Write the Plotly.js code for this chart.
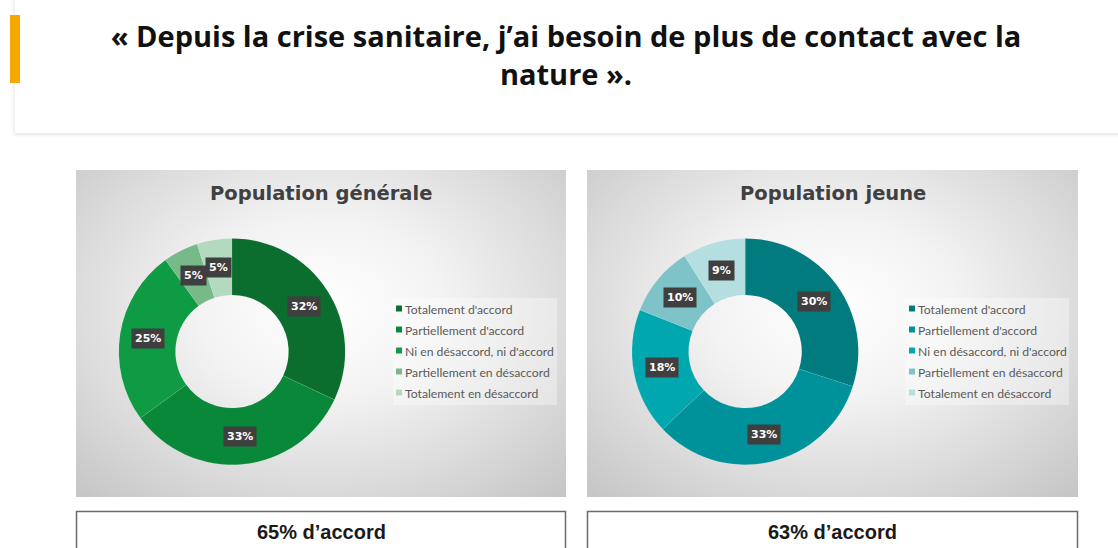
<!DOCTYPE html>
<html>
<head>
<meta charset="utf-8">
<script src="https://cdn.plot.ly/plotly-3.0.1.min.js"></script>
<style>
  html, body { margin: 0; padding: 0; background: #ffffff; }
  #wrap { position: relative; width: 1118px; height: 548px; overflow: hidden; background: #fff; }
  .header { position: absolute; left: 15px; top: -10px; width: 1120px; height: 143px; background: #fff;
            box-shadow: -1px 2px 4px rgba(0,0,0,0.10); }
  .panel { position: absolute; top: 170px; height: 327px;
           background: radial-gradient(ellipse 72% 78% at 50% 42%, #ffffff 0%, #f3f3f3 35%, #dadada 72%, #c6c6c6 100%); }
  #p1 { left: 76px; width: 490px; }
  #p2 { left: 587px; width: 491px; }
  #chart { position: absolute; left: 0; top: 0; width: 1118px; height: 548px; }
  .legend .legendpoints path.legendpie,
  .legend2 .legendpoints path.legendpie { transform: translate(34px, 0px) scale(0.5); }
  text.legendtext, text.legendtext tspan, .legend2 text, .legend2 tspan, .legend text, .legend tspan {
    font-size: 12.2px !important; font-family: Lato, sans-serif !important; }
</style>
</head>
<body>
<div id="wrap">
  <div class="header"></div>
  <div class="panel" id="p1"></div>
  <div class="panel" id="p2"></div>
  <div id="chart"></div>
</div>
<script>
// ---- Data ----
const categories = ["Totalement d'accord", "Partiellement d'accord", "Ni en désaccord, ni d'accord", "Partiellement en désaccord", "Totalement en désaccord"];
const valuesGenerale = [32, 33, 25, 5, 5];
const valuesJeune = [30, 33, 18, 10, 9];
const colorsGenerale = ["#0b6e2e", "#098839", "#0e9b43", "#78b98a", "#b3d9be"];
const colorsJeune = ["#017b7e", "#00929a", "#00a7ae", "#7dc3c7", "#b5dee0"];
const chartTitle = "« Depuis la crise sanitaire, j’ai besoin de plus de contact avec la<br>nature ».";
const panelTitles = ["Population générale", "Population jeune"];
const accordTexts = ["65% d’accord", "63% d’accord"];

const W = 1118, H = 548;
const hole = 0.5;
const dom1 = {x: [0.1055, 0.3095], y: [0.152, 0.565]};
const dom2 = {x: [0.5635, 0.7695], y: [0.152, 0.565]};

// second pie gets a trailing space so its legend entries are not merged with the first pie's
const categoriesJeune = categories.map(c => c + ' ');

function pieTrace(vals, labels, cols, dom, legendId) {
  return {
    type: 'pie', values: vals, labels: labels, sort: false, direction: 'clockwise', rotation: 0,
    hole: hole, domain: dom, textinfo: 'none', hoverinfo: 'label+percent',
    marker: {colors: cols, line: {color: 'rgba(255,255,255,0.15)', width: 0.5}},
    legend: legendId, showlegend: true
  };
}

// label annotations derived from the data values and the pie domain
function labelAnnots(vals, dom) {
  const x0 = dom.x[0]*W, x1 = dom.x[1]*W, y0 = dom.y[0]*H, y1 = dom.y[1]*H;
  const cx = (x0+x1)/2, cy = (y0+y1)/2; // cy measured from bottom
  const r = Math.min(x1-x0, y1-y0)/2;
  const rm = r*(1+hole)/2;
  const total = vals.reduce((a,b)=>a+b, 0);
  let cum = 0;
  return vals.map(v => {
    const mid = (cum + v/2)/total; cum += v;
    const th = mid*2*Math.PI;
    const px = cx + rm*Math.sin(th), py = cy + rm*Math.cos(th);
    return {
      xref: 'paper', yref: 'paper', x: px/W, y: py/H, xanchor: 'center', yanchor: 'middle',
      text: '<b>' + Math.round(v/total*100) + '%</b>', showarrow: false,
      font: {family: 'DejaVu Sans, sans-serif', size: 11, color: '#ffffff'},
      bgcolor: '#3f3f3f', borderpad: 3
    };
  });
}

const annotations = [].concat(
  labelAnnots(valuesGenerale, dom1),
  labelAnnots(valuesJeune, dom2),
  [
    {xref:'paper', yref:'paper', x: 321/W, y: 1-194/H, text: '<b>'+panelTitles[0]+'</b>', showarrow:false,
     xanchor:'center', yanchor:'middle', font:{family:'DejaVu Sans, sans-serif', size:19.5, color:'#404040'}},
    {xref:'paper', yref:'paper', x: 832.5/W, y: 1-194/H, text: '<b>'+panelTitles[1]+'</b>', showarrow:false,
     xanchor:'center', yanchor:'middle', font:{family:'DejaVu Sans, sans-serif', size:19.5, color:'#404040'}},
    {xref:'paper', yref:'paper', x: 321/W, y: 1-532/H, text: '<b>'+accordTexts[0]+'</b>', showarrow:false,
     xanchor:'center', yanchor:'middle', font:{family:'Liberation Sans, Arial, sans-serif', size:20, color:'#1a1a1a'}},
    {xref:'paper', yref:'paper', x: 832.5/W, y: 1-532/H, text: '<b>'+accordTexts[1]+'</b>', showarrow:false,
     xanchor:'center', yanchor:'middle', font:{family:'Liberation Sans, Arial, sans-serif', size:20, color:'#1a1a1a'}}
  ]
);

const shapes = [
  // orange accent bar
  {type:'rect', xref:'paper', yref:'paper', x0: 10/W, x1: 20/W, y0: 1-83/H, y1: 1-15/H, fillcolor:'#f4a900', line:{width:0}},
  // legend background boxes
  {type:'rect', xref:'paper', yref:'paper', x0: 393/W, x1: 557/W, y0: 1-405/H, y1: 1-298/H, fillcolor:'rgba(255,255,255,0.35)', line:{width:0}, layer:'below'},
  {type:'rect', xref:'paper', yref:'paper', x0: 905/W, x1: 1069/W, y0: 1-405/H, y1: 1-298/H, fillcolor:'rgba(255,255,255,0.35)', line:{width:0}, layer:'below'},
  // bottom boxes
  {type:'rect', xref:'paper', yref:'paper', x0: 76.5/W, x1: 565.5/W, y0: -0.1, y1: 1-511.5/H, fillcolor:'#ffffff', line:{color:'#6a6a6a', width:1.5}},
  {type:'rect', xref:'paper', yref:'paper', x0: 587.5/W, x1: 1077.5/W, y0: -0.1, y1: 1-511.5/H, fillcolor:'#ffffff', line:{color:'#6a6a6a', width:1.5}}
];

function legendSpec(x) {
  return {
    x: x, y: 1-293/H,
    bgcolor: 'rgba(0,0,0,0)', borderwidth: 0, xanchor: 'left', yanchor: 'top',
    font: {family: 'Lato, sans-serif', size: 13.85, color: '#5a5a5a'}, traceorder: 'normal'
  };
}

const layout = {
  width: W, height: H,
  margin: {l:0, r:0, t:0, b:0},
  paper_bgcolor: 'rgba(0,0,0,0)', plot_bgcolor: 'rgba(0,0,0,0)',
  title: {text: '<b>'+chartTitle+'</b>', x: 566/W, xanchor:'center', y: 1-47/H, yanchor:'middle', yref:'container',
          font: {family:'Open Sans, sans-serif', size: 29, color:'#111111'}},
  legend: legendSpec(365/W),
  legend2: legendSpec(878/W),
  annotations: annotations,
  shapes: shapes
};

function fixLegendText() {
  document.querySelectorAll('.legend text, .legend tspan, .legend2 text, .legend2 tspan, text.legendtext').forEach(t => {
    t.style.setProperty('font-size', '12.2px', 'important');
    t.style.setProperty('font-family', 'Lato, sans-serif', 'important');
  });
}

Plotly.newPlot('chart', [
  pieTrace(valuesGenerale, categories, colorsGenerale, dom1, 'legend'),
  pieTrace(valuesJeune, categoriesJeune, colorsJeune, dom2, 'legend2')
], layout, {displayModeBar: false, staticPlot: true}).then(gd => {
  fixLegendText();
  gd.on('plotly_afterplot', fixLegendText);
});
</script>
</body>
</html>
